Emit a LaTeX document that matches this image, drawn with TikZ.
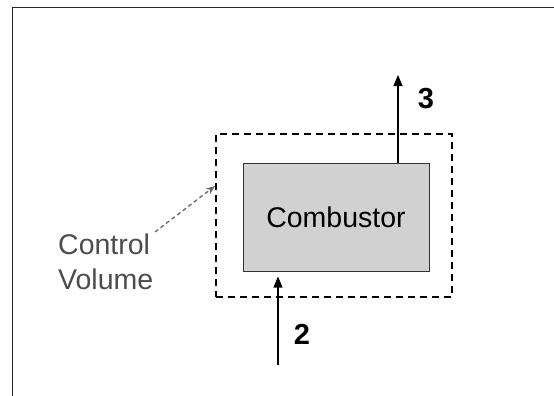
\documentclass[tikz,border=0pt]{standalone}
\usepackage{fontspec}
\setmainfont{Liberation Sans}
\usetikzlibrary{arrows.meta}

\begin{document}
\begin{tikzpicture}[x=1pt,y=-1pt,
    flow/.style={draw,line width=1.2pt,-{Triangle[length=11pt,width=9pt]}},
    pointer/.style={draw,black!60,line width=1.3pt,dash pattern=on 4pt off 3pt,-{Stealth[length=9pt,width=7pt]}}]
  \useasboundingbox (0,0) rectangle (554,396);
  % frame
  \draw[line width=1pt,black!85] (12,398) -- (12,8) -- (556,8);
  \begin{scope}[every node/.style={inner sep=0pt}]
    \node (cv) at (334,215.5) [draw,line width=1.3pt,dash pattern=on 7pt off 5pt,
      minimum width=236pt,minimum height=163pt] {};
    \node (comb) at (336,217) [draw,line width=1pt,black!80,fill=black!18,
      minimum width=186pt,minimum height=108pt,
      text=black,font=\fontsize{28.5}{34}\selectfont] {Combustor};
    \node (cvtext) at (58,262) [anchor=west,align=left,text=black!70,
      font=\fontsize{28.5}{35}\selectfont] {Control\\Volume};
    \node (lbl3) at (426,99) [font=\bfseries\fontsize{29}{34}\selectfont] {3};
    \node (lbl2) at (302,334) [font=\bfseries\fontsize{29}{34}\selectfont] {2};
  \end{scope}
  \coordinate (out3) at (398,75);
  \coordinate (in2) at (278,365);
  \coordinate (cvfrom) at (155,232);
  \coordinate (cvto) at (215,186);
  \path[flow] ([xshift=62pt]comb.north) -- (out3);
  \path[flow] (in2) -- ([xshift=-58pt,yshift=-5pt]comb.south);
  \path[pointer] (cvfrom) -- (cvto);
\end{tikzpicture}
\end{document}
